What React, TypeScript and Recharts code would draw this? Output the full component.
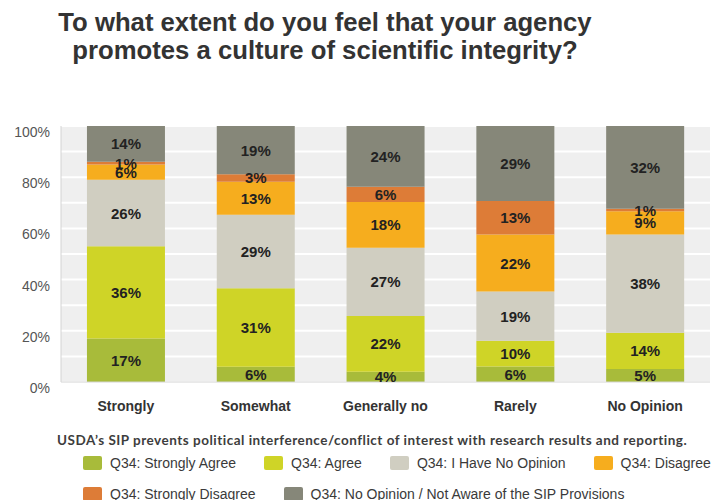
import React from 'react';
import { BarChart, Bar, XAxis, YAxis, CartesianGrid, LabelList } from 'recharts';

const categories = ['Strongly', 'Somewhat', 'Generally no', 'Rarely', 'No Opinion'];

const strongAgree = [17, 6, 4, 6, 5];
const agree = [36, 31, 22, 10, 14];
const noOpinion = [26, 29, 27, 19, 38];
const disagree = [6, 13, 18, 22, 9];
const strongDisagree = [1, 3, 6, 13, 1];
const notAware = [14, 19, 24, 29, 32];

const yTicks = [0, 0.1, 0.2, 0.3, 0.4, 0.5, 0.6, 0.7, 0.8, 0.9, 1];

const series = [
  { key: 'strongAgree', name: 'Q34: Strongly Agree', values: strongAgree, color: '#a8bb3a' },
  { key: 'agree', name: 'Q34: Agree', values: agree, color: '#cfd427' },
  { key: 'noOpinion', name: 'Q34: I Have No Opinion', values: noOpinion, color: '#d0cec1' },
  { key: 'disagree', name: 'Q34: Disagree', values: disagree, color: '#f6ad1e' },
  { key: 'strongDisagree', name: 'Q34: Strongly Disagree', values: strongDisagree, color: '#dd7c37' },
  { key: 'notAware', name: 'Q34: No Opinion / Not Aware of the SIP Provisions', values: notAware, color: '#868779' },
];

const data = categories.map((cat, i) => {
  const row: Record<string, string | number> = { cat };
  series.forEach((s) => {
    row[s.key] = s.values[i];
  });
  return row;
});

const FONT = '"Liberation Sans", Arial, sans-serif';

// label drawn in the middle of each stacked segment, showing the raw percent
const segmentLabel = (values: number[]) => (props: any) => {
  const { x, y, width, height, index } = props;
  return (
    <text
      x={Number(x) + Number(width) / 2}
      y={Number(y) + Number(height) / 2}
      textAnchor="middle"
      dominantBaseline="central"
      fontFamily={FONT}
      fontWeight="bold"
      fontSize={15}
      fill="#222"
    >
      {values[index]}%
    </text>
  );
};

const LegendRow = ({ items }: { items: typeof series }) => (
  <div style={{ display: 'flex', alignItems: 'center', paddingLeft: 83, height: 31 }}>
    {items.map((s) => (
      <div key={s.key} style={{ display: 'flex', alignItems: 'center', marginRight: 28, flexShrink: 0 }}>
        <span
          style={{
            display: 'inline-block',
            width: 19,
            height: 14,
            borderRadius: 2,
            background: s.color,
            marginRight: 8,
          }}
        />
        <span style={{ fontFamily: FONT, fontSize: 14, color: '#3a3a3a', whiteSpace: 'nowrap' }}>{s.name}</span>
      </div>
    ))}
  </div>
);

export default function App() {
  return (
    <div style={{ position: 'absolute', left: 0, top: 0, width: 717, height: 500, background: '#fff', overflow: 'hidden' }}>
      <div
        style={{
          position: 'absolute',
          left: 0,
          top: 8,
          width: 650,
          textAlign: 'center',
          fontFamily: FONT,
          fontWeight: 'bold',
          fontSize: 25.7,
          lineHeight: '28px',
          color: '#333',
        }}
      >
        To what extent do you feel that your agency
        <br />
        promotes a culture of scientific integrity?
      </div>

      <BarChart
        width={717}
        height={500}
        data={data}
        stackOffset="expand"
        barCategoryGap="20%"
        margin={{ top: 126, right: 7, bottom: 88, left: 0 }}
      >
        <CartesianGrid vertical={false} fill="#efefef" stroke="#ffffff" strokeWidth={2} />
        <XAxis
          dataKey="cat"
          height={30}
          tickLine={false}
          axisLine={{ stroke: '#d4d4d4' }}
          tickMargin={13}
          tick={{ fontFamily: FONT, fontSize: 14, fontWeight: 'bold', fill: '#333' }}
        />
        <YAxis
          width={61}
          domain={[0, 1]}
          ticks={yTicks}
          interval={0}
          tickLine={false}
          axisLine={{ stroke: '#d4d4d4' }}
          tickMargin={5}
          tickFormatter={(v: number) => (Math.round(v * 10) % 2 === 0 ? `${Math.round(v * 100)}%` : '')}
          tick={{ fontFamily: FONT, fontSize: 14, fill: '#555', dy: 6 }}
        />
        {series.map((s) => (
          <Bar key={s.key} dataKey={s.key} name={s.name} stackId="a" fill={s.color} isAnimationActive={false}>
            <LabelList dataKey={s.key} content={segmentLabel(s.values)} />
          </Bar>
        ))}
      </BarChart>

      <div
        style={{
          position: 'absolute',
          left: 0,
          top: 431,
          width: 717,
          textAlign: 'left',
          paddingLeft: 57,
          boxSizing: 'border-box',
          fontFamily: 'Lato, "Open Sans", sans-serif',
          fontWeight: 'bold',
          fontSize: 13.5,
          letterSpacing: 0.5,
          lineHeight: '18px',
          color: '#3d3d3d',
          whiteSpace: 'nowrap',
        }}
      >
        USDA’s SIP prevents political interference/conflict of interest with research results and reporting.
      </div>
      <div style={{ position: 'absolute', left: 0, top: 447, width: 717 }}>
        <LegendRow items={series.slice(0, 4)} />
        <LegendRow items={series.slice(4)} />
      </div>
    </div>
  );
}
